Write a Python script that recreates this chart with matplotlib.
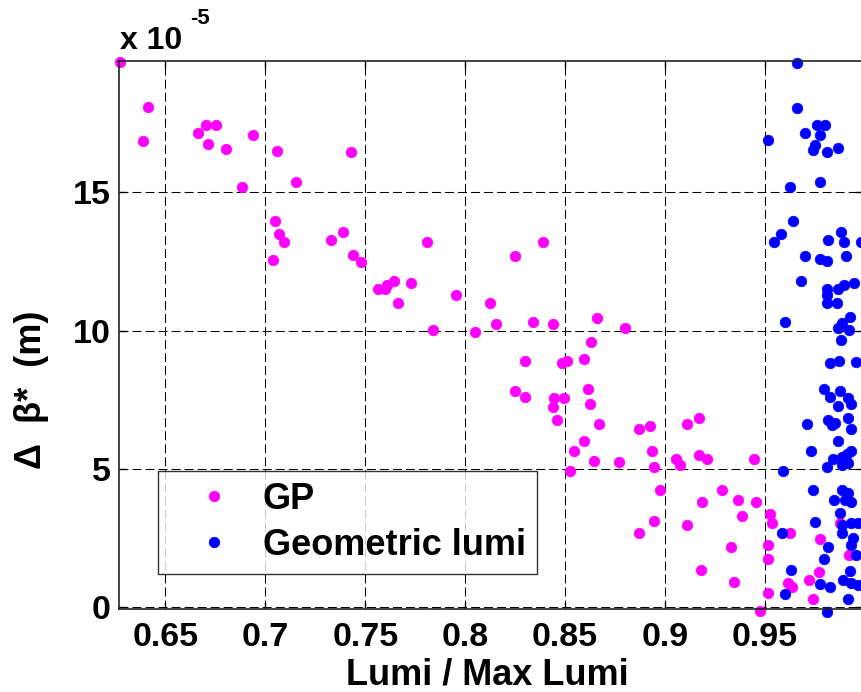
import matplotlib
matplotlib.use("Agg")
import matplotlib.pyplot as plt

# values (y in units of 1e-5 m)
gp_x = [0.6273, 0.6412, 0.6390, 0.6704, 0.6754, 0.6665, 0.6714, 0.6803, 0.6940, 0.7059,
        0.7430, 0.7155, 0.6881, 0.7047, 0.7069, 0.7095, 0.7037, 0.7329, 0.7390, 0.7438,
        0.7478, 0.7811, 0.7563, 0.7599, 0.7607, 0.7643, 0.7731, 0.7664, 0.7956, 0.7839,
        0.8250, 0.8388, 0.8123, 0.8153, 0.8047, 0.8339, 0.8438, 0.8660, 0.8797, 0.8631,
        0.8301, 0.8483, 0.8508, 0.8593, 0.8250, 0.8299, 0.8446, 0.8438, 0.8496, 0.8458,
        0.8613, 0.8623, 0.8667, 0.8593, 0.8543, 0.8643, 0.8525, 0.8867, 0.8926, 0.9111,
        0.9170, 0.8769, 0.8936, 0.8944, 0.9053, 0.9073, 0.9170, 0.9210, 0.9444, 0.8976,
        0.9187, 0.9287, 0.9365, 0.9456, 0.9384, 0.9526, 0.9533, 0.8946, 0.8867, 0.9111,
        0.9328, 0.9516, 0.9516, 0.9180, 0.9347, 0.9516, 0.9474, 0.9624, 0.9777, 0.9877,
        0.9920, 0.9768, 0.9720, 0.9617, 0.9637, 0.9738]
gp_y = [19.70, 18.08, 16.87, 17.44, 17.44, 17.15, 16.74, 16.58, 17.09, 16.51,
        16.45, 15.39, 15.18, 13.98, 13.48, 13.20, 12.57, 13.27, 13.56, 12.73,
        12.49, 13.20, 11.50, 11.51, 11.67, 11.79, 11.72, 11.01, 11.30, 10.03,
        12.71, 13.20, 11.01, 10.23, 9.95, 10.30, 10.23, 10.45, 10.09, 9.59,
        8.89, 8.82, 8.89, 8.98, 7.83, 7.61, 7.56, 7.25, 7.56, 6.77,
        7.89, 7.35, 6.64, 6.00, 5.65, 5.30, 4.94, 6.43, 6.57, 6.64,
        6.84, 5.24, 5.65, 5.07, 5.36, 5.15, 5.52, 5.36, 5.36, 4.24,
        3.81, 4.24, 3.89, 3.81, 3.31, 3.38, 3.04, 3.11, 2.68, 2.96,
        2.19, 2.25, 1.76, 1.34, 0.91, 0.51, -0.13, 2.70, 2.46, 3.04,
        1.89, 1.28, 1.00, 0.87, 0.72, 0.29]

geo_x = [0.9662, 0.9662, 0.9760, 0.9800, 0.9700, 0.9777, 0.9514, 0.9750, 0.9738, 0.9808,
         0.9865, 0.9777, 0.9623, 0.9639, 0.9581, 0.9543, 0.9881, 0.9817, 0.9897, 0.9979,
         0.9700, 0.9777, 0.9810, 0.9905, 0.9680, 0.9808, 0.9808, 0.9808, 0.9858, 0.9867,
         0.9895, 0.9945, 0.9600, 0.9925, 0.9884, 0.9867, 0.9920, 0.9879, 0.9825, 0.9870,
         0.9953, 0.9795, 0.9875, 0.9825, 0.9917, 0.9932, 0.9865, 0.9710, 0.9817, 0.9834,
         0.9850, 0.9914, 0.9932, 0.9865, 0.9728, 0.9932, 0.9591, 0.9808, 0.9842, 0.9884,
         0.9909, 0.9884, 0.9917, 0.9738, 0.9884, 0.9917, 0.9847, 0.9900, 0.9932, 0.9875,
         0.9748, 0.9884, 0.9932, 0.9966, 0.9884, 0.9583, 0.9940, 0.9932, 0.9817, 0.9953,
         0.9797, 0.9629, 0.9925, 0.9892, 0.9932, 0.9966, 0.9777, 0.9825, 0.9600, 0.9914,
         0.9808]
geo_y = [19.69, 18.06, 17.45, 17.45, 17.16, 17.08, 16.88, 16.71, 16.52, 16.45,
         16.59, 15.39, 15.20, 13.97, 13.50, 13.20, 13.56, 13.27, 13.20, 13.20,
         12.70, 12.58, 12.51, 12.71, 11.81, 11.52, 11.29, 11.01, 11.01, 11.50,
         11.66, 11.74, 10.31, 10.48, 10.27, 10.11, 10.03, 9.66, 8.82, 8.92,
         8.88, 7.90, 7.83, 7.61, 7.56, 7.35, 7.28, 6.64, 6.77, 6.59,
         6.65, 6.83, 6.44, 6.01, 5.65, 5.66, 4.94, 5.08, 5.35, 5.44,
         5.54, 5.14, 5.21, 4.24, 4.24, 4.12, 3.88, 3.88, 3.82, 3.40,
         3.09, 2.98, 3.04, 3.04, 2.70, 2.70, 2.49, 2.25, 2.18, 1.89,
         1.76, 1.35, 1.32, 0.99, 0.87, 0.81, 0.83, 0.72, 0.48, 0.29,
         -0.16]

x_ticks = [0.65, 0.7, 0.75, 0.8, 0.85, 0.9, 0.95]
x_ticklabels = ["0.65", "0.7", "0.75", "0.8", "0.85", "0.9", "0.95"]
y_ticks = [0, 5, 10, 15]

plt.rcParams["font.family"] = ["Liberation Sans", "DejaVu Sans"]
plt.rcParams["font.weight"] = "bold"

fig = plt.figure(figsize=(8.61, 6.92), dpi=100)
ax = fig.add_axes([119 / 861, 82.7 / 692, 744 / 861, 548.3 / 692])

ax.plot(gp_x, gp_y, "o", color="#ff00ff", ms=7.6, mew=0.5, mec="#ff00ff",
        clip_on=False, label="GP")
ax.plot(geo_x, geo_y, "o", color="#0000ff", ms=7.6, mew=0.5, mec="#0000ff",
        clip_on=False, label="Geometric lumi")

ax.set_xlim(0.6268, 0.999)
ax.set_ylim(-0.07, 19.75)
ax.set_xticks(x_ticks)
ax.set_xticklabels(x_ticklabels)
ax.set_yticks(y_ticks)

ax.grid(True, color="black", lw=0.75, linestyle=(0, (8.6, 3.9)))
ax.set_axisbelow(True)
for s in ax.spines.values():
    s.set_linewidth(1.2)
    s.set_color("#222222")

ax.tick_params(direction="in", length=5, width=1, top=True, right=True,
               labelsize=24.5, colors="black")
ax.tick_params(axis="x", pad=9)
ax.tick_params(axis="y", pad=6)

ax.set_xlabel("Lumi / Max Lumi", fontsize=26, fontweight="bold")
ax.xaxis.set_label_coords(0.495, -0.088)
ax.set_ylabel("Δ  β*  (m)", fontsize=26, fontweight="bold")
ax.yaxis.set_label_coords(-0.094, 0.4)

fig.text(120 / 861, 1 - 49 / 692, "x 10", fontsize=23, fontweight="bold",
         ha="left", va="baseline")
fig.text(190 / 861, 1 - 24 / 692, "-5", fontsize=16, fontweight="bold",
         ha="left", va="baseline")

leg = ax.legend(loc="upper left", bbox_to_anchor=(0.0524, 0.2522), borderaxespad=0,
                fontsize=26, frameon=True, fancybox=False, borderpad=0.3,
                handlelength=2.5, handletextpad=0.1, labelspacing=0.3,
                numpoints=1, markerscale=1.0)
leg.get_frame().set_edgecolor("black")
leg.get_frame().set_linewidth(1.0)

fig.savefig("out.png", dpi=100)
